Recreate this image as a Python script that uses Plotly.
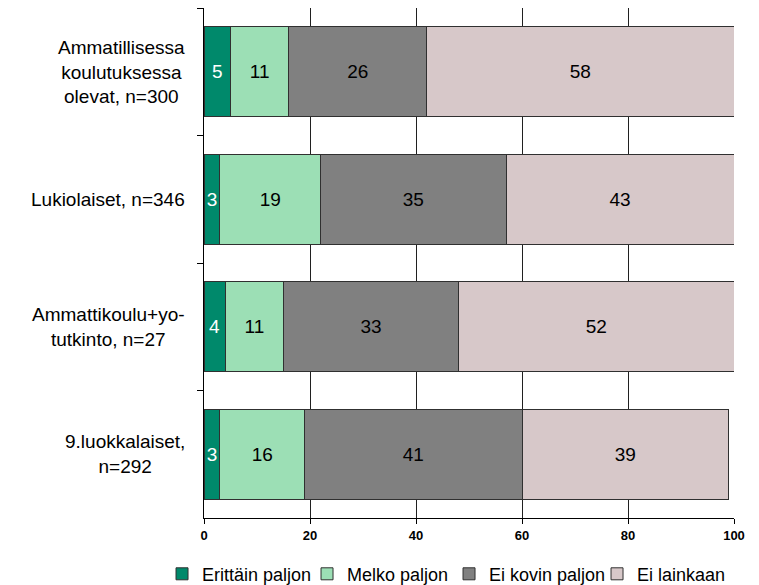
import plotly.graph_objects as go

categories = ["Ammatillisessa<br>koulutuksessa<br>olevat, n=300",
              "Lukiolaiset, n=346",
              "Ammattikoulu+yo-<br>tutkinto, n=27",
              "9.luokkalaiset,<br>n=292"]
series_names = ["Erittäin paljon", "Melko paljon", "Ei kovin paljon", "Ei lainkaan"]
erittain = [5, 3, 4, 3]
melko = [11, 19, 11, 16]
ei_kovin = [26, 35, 33, 41]
ei_lainkaan = [58, 43, 52, 39]
x_ticks = [0, 20, 40, 60, 80, 100]

colors = ["#00896B", "#9CDFB5", "#808080", "#D7C8C9"]
text_colors = ["white", "black", "black", "black"]
legend_widths = [100, 97, 103, 95]
values = [erittain, melko, ei_kovin, ei_lainkaan]

FONT = "Liberation Sans, Arial, sans-serif"

fig = go.Figure()
for name, vals, c, tc, lw in zip(series_names, values, colors, text_colors, legend_widths):
    fig.add_trace(go.Bar(
        y=categories, x=vals, name=name, orientation="h",
        marker=dict(color=c, line=dict(color="#303030", width=1)),
        text=[str(v) for v in vals], textposition="inside",
        insidetextanchor="middle", textangle=0, constraintext="none",
        textfont=dict(color=tc, size=19, family=FONT),
        hoverinfo="x+name", legendwidth=lw,
    ))

for cat in categories:
    fig.add_annotation(
        x=0, xref="paper", y=cat, yref="y", xanchor="right", yanchor="middle",
        xshift=-17, text=cat, showarrow=False, align="center",
        font=dict(size=19, family=FONT, color="black"),
    )

fig.update_layout(
    barmode="stack", bargap=0.294,
    width=751, height=577,
    margin=dict(l=196, r=25, t=0, b=67, autoexpand=False),
    paper_bgcolor="white", plot_bgcolor="white",
    font=dict(family=FONT, color="black"),
    legend=dict(orientation="h", xref="paper", x=-0.0792, xanchor="left",
                yref="paper", y=-0.11, yanchor="middle",
                font=dict(size=18, family=FONT), traceorder="normal",
                itemwidth=30, tracegroupgap=0, borderwidth=0),
    showlegend=True,
)
fig.update_xaxes(range=[0, 100], tickvals=x_ticks, ticks="outside", ticklen=5,
                 tickcolor="black", showline=True, linecolor="black", linewidth=1,
                 mirror=True, showgrid=True, gridcolor="#202020", gridwidth=1,
                 zeroline=False, tickfont=dict(size=13, family=FONT, color="black",
                                                weight="bold"))
fig.update_yaxes(autorange="reversed", showticklabels=False, ticks="outside",
                 tickson="boundaries", ticklen=6, tickcolor="black", showline=True,
                 linecolor="black", linewidth=1, showgrid=False)

fig.write_html("out.html")
